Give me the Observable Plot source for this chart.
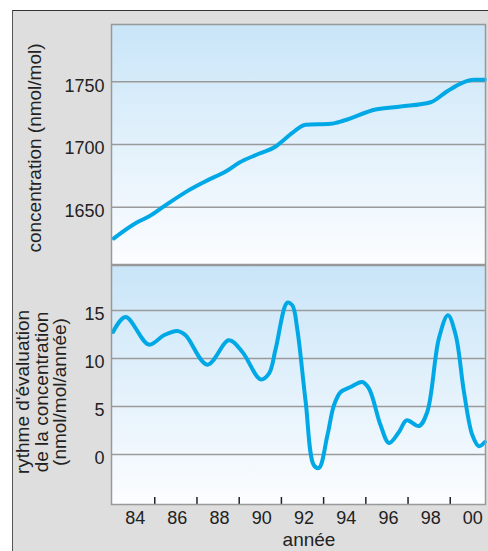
<!DOCTYPE html>
<html>
<head>
<meta charset="utf-8">
<script src="https://cdn.jsdelivr.net/npm/d3@7"></script>
<script src="https://cdn.jsdelivr.net/npm/@observablehq/plot@0.6"></script>
<style>
  html, body { margin: 0; padding: 0; background: #fff; }
  body { width: 488px; height: 551px; position: relative; overflow: hidden; font-family: "Liberation Sans", Arial, sans-serif; }
  #box { position: absolute; left: 12px; top: 10px; width: 476px; height: 541px; box-sizing: border-box;
         background: #dedede; border-top: 1.5px solid #333; border-left: 1.5px solid #555; }
  .chart { position: absolute; left: 0; }
  .title { position: absolute; transform: translate(-50%, -50%); white-space: nowrap; color: #222; font-size: 19px; }
  .rot { transform: translate(-50%, -50%) rotate(-90deg); text-align: center; }
</style>
</head>
<body>
<div id="box"></div>
<div id="top" class="chart" style="top:0px"></div>
<div id="bottom" class="chart" style="top:264px"></div>
<div class="title rot" style="left:35px; top:148px;">concentration (nmol/mol)</div>
<div class="title rot" style="left:42px; top:392px; line-height:18.5px;">rythme d'évaluation<br>de la concentration<br>(nmol/mol/année)</div>
<div class="title" style="left:309px; top:539.5px;">année</div>
<script>
// ---- data ----
const concYears  = [1983.06, 1984.17, 1984.72, 1985.43, 1986.54, 1987.41, 1988.44, 1988.99, 1989.93, 1990.73, 1991.07, 1991.50, 1992.15, 1993.33, 1993.96, 1995.46, 1996.65, 1998.07, 1998.86, 1999.57, 2000.12, 2000.64];
const concValues = [1625.2, 1638.0, 1642.6, 1650.6, 1662.8, 1670.7, 1679.3, 1685.4, 1692.6, 1698.4, 1703.0, 1709.0, 1715.7, 1716.5, 1719.1, 1727.9, 1730.3, 1733.7, 1742.5, 1749.2, 1751.6, 1751.6];

const rateYears  = [1983.02, 1983.62, 1984.72, 1985.43, 1986.07, 1986.46, 1987.49, 1988.51, 1989.15, 1990.01, 1990.41, 1990.73, 1991.28, 1991.52, 1991.75, 1992.15, 1992.54, 1992.78, 1993.18, 1993.49, 1993.81, 1994.28, 1994.83, 1995.15, 1995.70, 1996.10, 1996.57, 1996.93, 1997.52, 1997.91, 1998.46, 1998.89, 1999.26, 1999.65, 2000.05, 2000.36, 2000.64];
const rateValues = [12.77, 14.33, 11.46, 12.43, 12.88, 12.43, 9.37, 11.9, 10.69, 7.84, 8.44, 11.04, 15.83, 15.55, 13.1, 5.48, -1.11, -1.39, 2.01, 5.14, 6.52, 7.04, 7.56, 6.87, 3.05, 1.21, 2.35, 3.57, 2.98, 4.44, 12.08, 14.51, 12.43, 6.52, 2.01, 0.87, 1.31];

const concTicks = [1650, 1700, 1750];
const rateTicks = [0, 5, 10, 15];
const yearLabels = [1984, 1986, 1988, 1990, 1992, 1994, 1996, 1998, 2000];
const yearTickMarks = [1985, 1987, 1989, 1991, 1993, 1995, 1997, 1999];

const conc = concYears.map((y, i) => ({year: y, value: concValues[i]}));
const rate = rateYears.map((y, i) => ({year: y, value: rateValues[i]}));

const xDomain = [1982.95, 2000.67];
const lineColor = "#00a9e6";
const gridColor = "#9a9a9a";
const style = {fontFamily: "'Liberation Sans', Arial, sans-serif", fontSize: "18px", color: "#222", background: "transparent", overflow: "visible"};

function addGradient(svg, id) {
  const g = d3.select(svg).insert("defs", ":first-child")
    .append("linearGradient").attr("id", id)
    .attr("x1", 0).attr("y1", 0).attr("x2", 0).attr("y2", 1);
  g.append("stop").attr("offset", "0%").attr("stop-color", "#c9e5f8");
  g.append("stop").attr("offset", "100%").attr("stop-color", "#fcfdff");
}

const topChart = Plot.plot({
  width: 488, height: 265,
  marginTop: 24, marginBottom: 1, marginLeft: 111, marginRight: 3,
  style,
  x: {domain: xDomain, axis: null},
  y: {domain: [1604.3, 1795.7], label: null},
  marks: [
    Plot.frame({fill: "url(#gradTop)"}),
    Plot.gridY(concTicks, {stroke: gridColor, strokeOpacity: 1, strokeWidth: 1.5}),
    Plot.axisY(concTicks, {tickSize: 0, tickPadding: 7, dy: 4, fontSize: 18, fill: "#222", label: null,
      tickFormat: d => String(d)}),
    Plot.line(conc, {x: "year", y: "value", stroke: lineColor, strokeWidth: 4, curve: "monotone-x"}),
    Plot.frame({stroke: "#999", strokeWidth: 1.5})
  ]
});
addGradient(topChart, "gradTop");
document.getElementById("top").appendChild(topChart);

const bottomChart = Plot.plot({
  width: 488, height: 287,
  marginTop: 1, marginBottom: 47, marginLeft: 111, marginRight: 3,
  style,
  x: {domain: xDomain, label: null},
  y: {domain: [-5.2, 19.7], label: null},
  marks: [
    Plot.frame({fill: "url(#gradBot)"}),
    Plot.gridY(rateTicks, {stroke: gridColor, strokeOpacity: 1, strokeWidth: 1.5}),
    Plot.axisY(rateTicks, {tickSize: 0, tickPadding: 7, dy: 4, fontSize: 18, fill: "#222", label: null,
      tickFormat: d => String(d)}),
    Plot.axisX(yearLabels, {tickSize: 0, tickPadding: 7, dx: 1.5, fontSize: 18, fill: "#222", label: null,
      tickFormat: d => String(d % 100).padStart(2, "0")}),
    Plot.axisX(yearTickMarks, {tickSize: 7, dy: -7, stroke: "#222", strokeWidth: 1.5, label: null, tickFormat: () => ""}),
    Plot.line(rate, {x: "year", y: "value", stroke: lineColor, strokeWidth: 4, curve: "catmull-rom"}),
    Plot.frame({stroke: "#999", strokeWidth: 1.5})
  ]
});
addGradient(bottomChart, "gradBot");
document.getElementById("bottom").appendChild(bottomChart);
</script>
</body>
</html>
